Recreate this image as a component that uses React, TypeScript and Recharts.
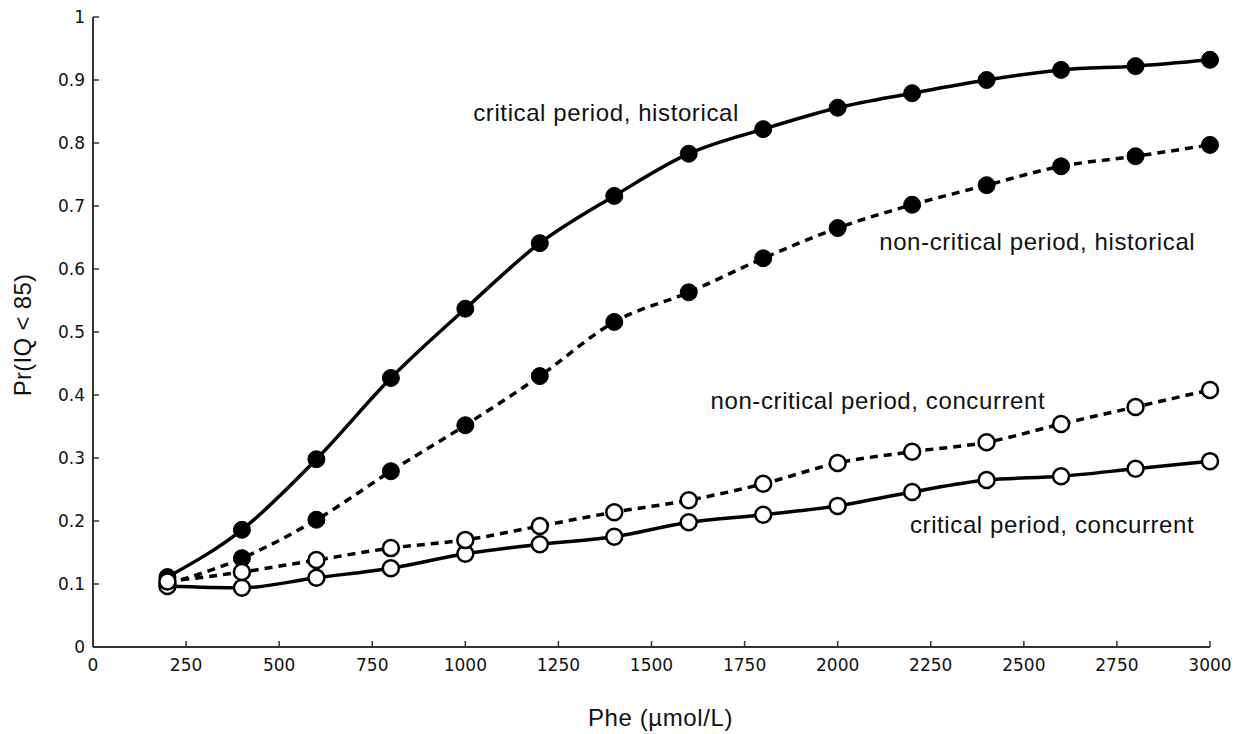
import { LineChart, Line, XAxis, YAxis, ReferenceDot, Label } from "recharts";

const phe = [200, 400, 600, 800, 1000, 1200, 1400, 1600, 1800, 2000, 2200, 2400, 2600, 2800, 3000];
const criticalHistorical = [0.111, 0.186, 0.298, 0.427, 0.537, 0.641, 0.716, 0.783, 0.822, 0.856, 0.879, 0.9, 0.916, 0.922, 0.932];
const nonCriticalHistorical = [0.1, 0.141, 0.202, 0.279, 0.352, 0.43, 0.516, 0.563, 0.617, 0.665, 0.702, 0.733, 0.763, 0.779, 0.797];
const nonCriticalConcurrent = [0.104, 0.119, 0.138, 0.157, 0.17, 0.192, 0.214, 0.233, 0.259, 0.292, 0.31, 0.325, 0.354, 0.381, 0.408];
const criticalConcurrent = [0.097, 0.094, 0.11, 0.125, 0.148, 0.163, 0.175, 0.198, 0.21, 0.224, 0.246, 0.265, 0.271, 0.283, 0.295];

const xTicks = [0, 250, 500, 750, 1000, 1250, 1500, 1750, 2000, 2250, 2500, 2750, 3000];
const yTicks = [0, 0.1, 0.2, 0.3, 0.4, 0.5, 0.6, 0.7, 0.8, 0.9, 1];

const annotations = [
  { text: "critical period, historical", x: 1378, y: 0.849 },
  { text: "non-critical period, historical", x: 2536, y: 0.644 },
  { text: "non-critical period, concurrent", x: 2108, y: 0.392 },
  { text: "critical period, concurrent", x: 2576, y: 0.195 },
];

const data = phe.map((p, i) => ({
  phe: p,
  ch: criticalHistorical[i],
  nh: nonCriticalHistorical[i],
  nc: nonCriticalConcurrent[i],
  cc: criticalConcurrent[i],
}));

const textFont = '"Liberation Sans", Arial, sans-serif';
const tickStyle = { fontFamily: '"DejaVu Sans", Verdana, sans-serif', fontSize: 17, fill: "#111" };
const annoStyle = { fontFamily: textFont, fontSize: 24, letterSpacing: 0.6, fill: "#111" };

const filledDot = { r: 8.5, fill: "#000", stroke: "#000", strokeWidth: 1, strokeDasharray: "0" };
const openDot = { r: 8, fill: "#fff", stroke: "#000", strokeWidth: 2.5, strokeDasharray: "0" };

export default function App() {
  return (
    <div style={{ position: "absolute", left: 0, top: 0, background: "#fff" }}>
      <LineChart width={1237} height={734} data={data} margin={{ top: 17, right: 27, left: 0, bottom: 0 }}>
        <XAxis
          dataKey="phe"
          type="number"
          domain={[0, 3000]}
          ticks={xTicks}
          height={87}
          tickSize={-6}
          tickMargin={18}
          tick={tickStyle}
          axisLine={{ stroke: "#333", strokeWidth: 2 }}
          tickLine={{ stroke: "#333", strokeWidth: 1.5 }}
          interval={0}
        >
          <Label value="Phe (µmol/L)" position="insideBottom" offset={8} dx={9} style={annoStyle} />
        </XAxis>
        <YAxis
          type="number"
          domain={[0, 1]}
          ticks={yTicks}
          width={93}
          tickSize={-6}
          tickMargin={14}
          tick={tickStyle}
          axisLine={{ stroke: "#333", strokeWidth: 2 }}
          tickLine={{ stroke: "#333", strokeWidth: 1.5 }}
          interval={0}
        >
          <Label
            value="Pr(IQ < 85)"
            angle={-90}
            position="insideLeft"
            offset={22}
            dy={3}
            style={{ ...annoStyle, letterSpacing: 0.3, textAnchor: "middle" }}
          />
        </YAxis>
        <Line
          dataKey="ch"
          type="monotone"
          stroke="#000"
          strokeWidth={3.5}
          dot={filledDot}
          activeDot={false}
          isAnimationActive={false}
        />
        <Line
          dataKey="nh"
          type="monotone"
          stroke="#000"
          strokeWidth={3.5}
          strokeDasharray="8 6"
          dot={filledDot}
          activeDot={false}
          isAnimationActive={false}
        />
        <Line
          dataKey="cc"
          type="monotone"
          stroke="#000"
          strokeWidth={3.5}
          dot={openDot}
          activeDot={false}
          isAnimationActive={false}
        />
        <Line
          dataKey="nc"
          type="monotone"
          stroke="#000"
          strokeWidth={3.5}
          strokeDasharray="8 6"
          dot={openDot}
          activeDot={false}
          isAnimationActive={false}
        />
        {annotations.map((a) => (
          <ReferenceDot key={a.text} x={a.x} y={a.y} r={0} fill="none" stroke="none">
            <Label value={a.text} position="center" style={annoStyle} />
          </ReferenceDot>
        ))}
      </LineChart>
    </div>
  );
}
